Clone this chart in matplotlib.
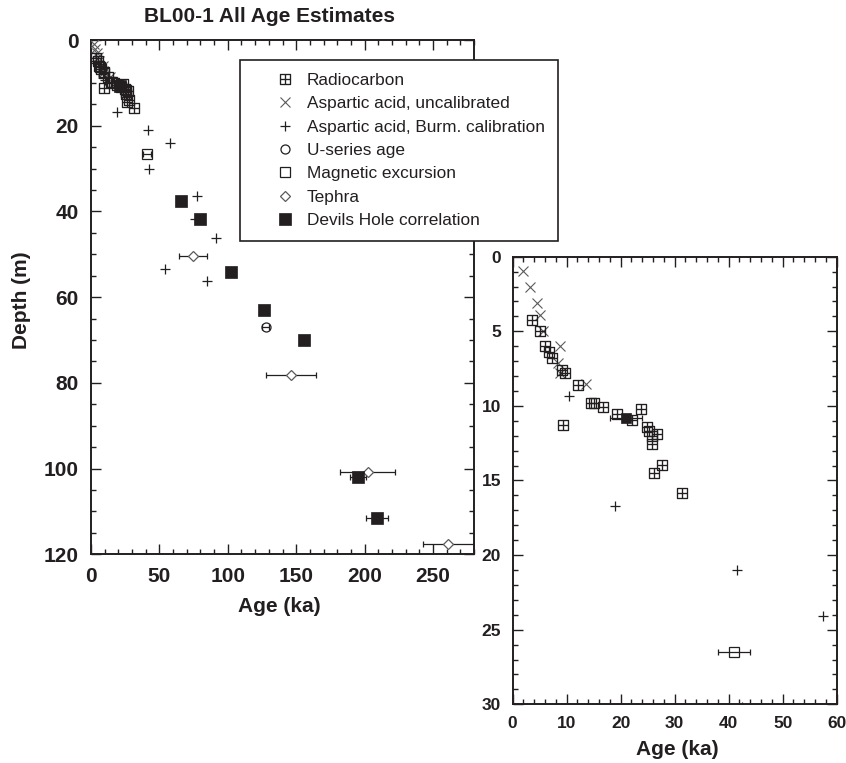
import matplotlib
matplotlib.use('Agg')
import matplotlib.pyplot as plt
from matplotlib.path import Path
from matplotlib.lines import Line2D
from matplotlib.ticker import MultipleLocator
import numpy as np

plt.rcParams['font.family'] = ['Liberation Sans', 'DejaVu Sans']

# ---------------- data (age in ka, depth in m) ----------------
radiocarbon_age = [3.7, 5.0, 6.0, 6.75, 7.35, 9.2, 9.7, 12.2, 14.6, 15.1, 16.8, 19.3,
                   22.1, 23.7, 9.4, 24.8, 25.3, 26.7, 25.8, 25.8, 27.6, 26.1, 31.3]
radiocarbon_depth = [4.24, 4.97, 5.96, 6.36, 6.82, 7.58, 7.81, 8.63, 9.83, 9.79, 10.1, 10.55,
                     10.97, 10.21, 11.26, 11.42, 11.71, 11.87, 12.04, 12.56, 13.99, 14.5, 15.87]

asp_uncal_age = [2.0, 3.25, 4.5, 5.0, 5.7, 8.8, 8.5, 8.7, 13.6]
asp_uncal_depth = [0.96, 2.05, 3.08, 3.9, 4.95, 5.96, 7.14, 7.8, 8.52]

asp_burm_age = [10.5, 19.0, 41.6, 57.5, 42.4, 77.3, 76.0, 91.4, 54.1, 84.6]
asp_burm_depth = [9.34, 16.7, 21.0, 24.05, 30.2, 36.4, 41.8, 46.3, 53.5, 56.2]

useries_age = [127.7]
useries_depth = [66.9]
useries_err = [2.5]

magex_age = [41.0]
magex_depth = [26.5]
magex_err = [3.0]

tephra_age = [74.8, 146.0, 202.3, 261.2]
tephra_depth = [50.4, 78.2, 100.7, 117.6]
tephra_err = [10.2, 18.3, 20.3, 18.7]

dh_age = [21.0, 65.6, 79.7, 102.1, 126.5, 155.9, 195.2, 209.3]
dh_depth = [10.8, 37.6, 41.8, 54.1, 63.0, 70.0, 102.0, 111.5]
dh_err = [2.9, 0, 0, 0, 0, 0, 6.1, 8.1]

labels = ['Radiocarbon', 'Aspartic acid, uncalibrated', 'Aspartic acid, Burm. calibration',
          'U-series age', 'Magnetic excursion', 'Tephra', 'Devils Hole correlation']

INK = '#231f20'
GRAY = '#5a5a5a'

# square with cross marker for radiocarbon
rc_path = Path([(-1, -1), (1, -1), (1, 1), (-1, 1), (-1, -1),
                (0, -1), (0, 1), (-1, 0), (1, 0)],
               [Path.MOVETO, Path.LINETO, Path.LINETO, Path.LINETO, Path.CLOSEPOLY,
                Path.MOVETO, Path.LINETO, Path.MOVETO, Path.LINETO])

styles = {
    'rc': dict(marker=rc_path, ms=7.4, mfc='none', mec=INK, mew=0.95),
    'ux': dict(marker='x', ms=6.5, mfc='none', mec=GRAY, mew=0.8),
    'bp': dict(marker='+', ms=7.0, mfc='none', mec=INK, mew=0.9),
    'us': dict(marker='o', ms=6.5, mfc='none', mec=INK, mew=0.9),
    'mx': dict(marker='s', ms=6.7, mfc='none', mec=INK, mew=0.9),
    'tp': dict(marker='D', ms=4.8, mfc='white', mec=GRAY, mew=0.9),
    'dh': dict(marker='s', ms=8.4, mfc=INK, mec=INK, mew=0.5),
}


def errbars(ax, x, y, e):
    x = np.asarray(x, float); y = np.asarray(y, float); e = np.asarray(e, float)
    m = e > 0
    if m.any():
        ax.errorbar(x[m], y[m], xerr=e[m], fmt='none', ecolor=INK, elinewidth=0.9,
                    capsize=2.4, capthick=0.9, zorder=2)


def draw_all(ax, dh_ms):
    errbars(ax, tephra_age, tephra_depth, tephra_err)
    errbars(ax, magex_age, magex_depth, magex_err)
    errbars(ax, useries_age, useries_depth, useries_err)
    errbars(ax, dh_age, dh_depth, dh_err)
    ax.plot(asp_burm_age, asp_burm_depth, ls='none', zorder=3, **styles['bp'])
    ax.plot(asp_uncal_age, asp_uncal_depth, ls='none', zorder=3, **styles['ux'])
    ax.plot(radiocarbon_age, radiocarbon_depth, ls='none', zorder=3, **styles['rc'])
    ax.plot(tephra_age, tephra_depth, ls='none', zorder=3, **styles['tp'])
    ax.plot(magex_age, magex_depth, ls='none', zorder=3, **styles['mx'])
    ax.plot(useries_age, useries_depth, ls='none', zorder=3, **styles['us'])
    st = dict(styles['dh']); st['ms'] = dh_ms
    ax.plot(dh_age, dh_depth, ls='none', zorder=4, **st)


def style_axes(ax, fs, pad):
    for s in ax.spines.values():
        s.set_linewidth(1.4)
        s.set_color(INK)
    ax.tick_params(which='both', direction='in', top=True, right=True, colors=INK,
                   width=1.0, labelsize=fs, pad=pad)
    ax.tick_params(which='major', length=7.2)
    ax.tick_params(which='minor', length=3.6)
    for lab in ax.get_xticklabels() + ax.get_yticklabels():
        lab.set_fontweight('bold')


W, H = 846, 763
fig = plt.figure(figsize=(W / 100, H / 100), dpi=100)

# ---------------- main axes ----------------
ax = fig.add_axes([91 / W, 1 - 554.3 / H, 383 / W, 514.3 / H])
draw_all(ax, 8.4)
ax.set_xlim(0, 280)
ax.set_ylim(120, 0)
ax.xaxis.set_major_locator(MultipleLocator(50))
ax.xaxis.set_minor_locator(MultipleLocator(10))
ax.yaxis.set_major_locator(MultipleLocator(20))
ax.yaxis.set_minor_locator(MultipleLocator(5))
style_axes(ax, 15, 9.0)
ax.set_xlabel('Age (ka)', fontsize=15, fontweight='bold', color=INK)
ax.set_ylabel('Depth (m)', fontsize=15, fontweight='bold', color=INK)
ax.xaxis.set_label_coords(0.491, -0.102)
ax.xaxis.label.set_va('center')
ax.yaxis.set_label_coords(-0.181, 0.494)
ax.yaxis.label.set_va('center')
ax.set_title('BL00-1 All Age Estimates', fontsize=15, fontweight='bold', color=INK,
             x=0.465, y=1.045, va='center', pad=0)

# ---------------- inset axes ----------------
ax2 = fig.add_axes([512.5 / W, 1 - 704.3 / H, 324.2 / W, 447.6 / H])
draw_all(ax2, 7.2)
ax2.set_xlim(0, 60)
ax2.set_ylim(30, 0)
ax2.xaxis.set_major_locator(MultipleLocator(10))
ax2.xaxis.set_minor_locator(MultipleLocator(2))
ax2.yaxis.set_major_locator(MultipleLocator(5))
ax2.yaxis.set_minor_locator(MultipleLocator(1))
style_axes(ax2, 12.5, 8.2)
ax2.set_xlabel('Age (ka)', fontsize=15, fontweight='bold', color=INK)
ax2.xaxis.set_label_coords(0.507, -0.1)
ax2.xaxis.label.set_va('center')

# ---------------- legend ----------------
keys = ['rc', 'ux', 'bp', 'us', 'mx', 'tp', 'dh']
handles = [Line2D([], [], ls='none', **styles[k]) for k in keys]
leg = fig.legend(handles, labels, loc='upper left',
                 bbox_to_anchor=(240 / W, 1 - 60 / H), borderaxespad=0,
                 fontsize=12.4, frameon=True, fancybox=False, numpoints=1,
                 borderpad=0.75, handlelength=3.73, handletextpad=-0.61,
                 labelspacing=0.48)
leg.get_frame().set_edgecolor(INK)
leg.get_frame().set_linewidth(1.2)
leg.get_frame().set_facecolor('white')
leg.get_frame().set_alpha(1)
for t in leg.get_texts():
    t.set_color(INK)

fig.savefig('out.png', dpi=100)
